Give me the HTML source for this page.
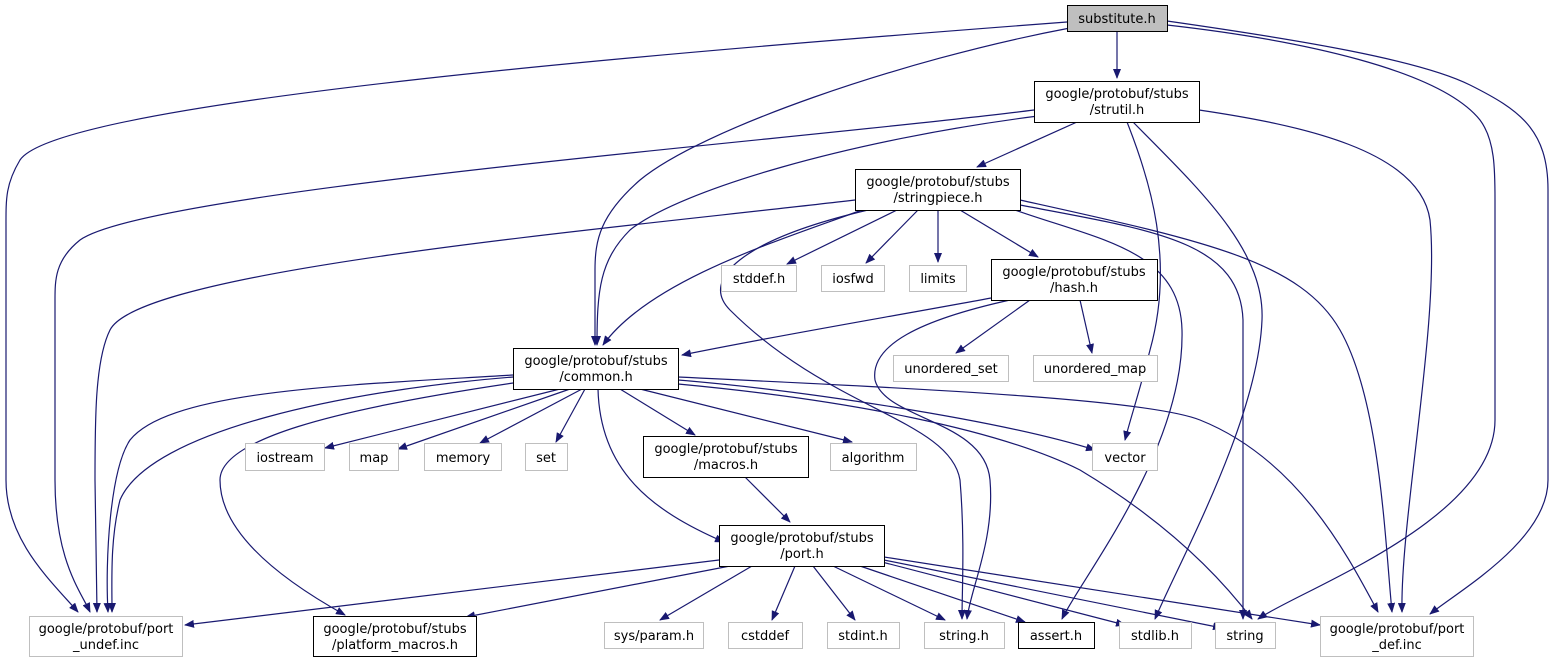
<!DOCTYPE html>
<html><head><meta charset="utf-8"><style>
html,body{margin:0;padding:0;background:#fff;}
svg{display:block;}
text{font-family:"DejaVu Sans","Liberation Sans",sans-serif;font-size:13px;fill:#000;}
.e{fill:none;stroke:#191970;stroke-width:1.2;marker-end:url(#a);}
.n{fill:#fff;stroke:#000;stroke-width:1;}
.g{fill:#fff;stroke:#bfbfbf;stroke-width:1;}
</style></head><body>
<svg width="1555" height="663" viewBox="0 0 1555 663" xmlns="http://www.w3.org/2000/svg">
<defs><marker id="a" markerWidth="10" markerHeight="8" refX="9" refY="4" orient="auto" markerUnits="userSpaceOnUse"><path d="M0,0 L10,4 L0,8 z" fill="#191970"/></marker></defs>
<path class="e" d="M1067,22 C700,50 60,100 20,160 C5,185 6,200 6,230 L6,480 C6,540 50,580 78,612"/>
<path class="e" d="M1070,28 C900,60 700,130 640,180 C600,215 595,240 595,270 L595,345"/>
<path class="e" d="M1117,31 L1117,78"/>
<path class="e" d="M1167,25 C1300,40 1440,70 1480,120 C1495,140 1495,170 1495,200 L1495,420 C1495,520 1300,590 1258,619"/>
<path class="e" d="M1167,21 C1300,40 1420,60 1470,85 C1520,110 1548,130 1548,190 L1548,480 C1548,540 1460,590 1430,614"/>
<path class="e" d="M1034,110 C800,140 150,190 80,240 C55,260 55,280 55,300 L55,480 C55,560 80,590 90,612"/>
<path class="e" d="M1038,116 C850,140 680,190 630,230 C600,260 597,290 597,345"/>
<path class="e" d="M1077,122 L977,167"/>
<path class="e" d="M1127,122 C1150,180 1175,260 1150,350 C1140,390 1130,420 1125,440"/>
<path class="e" d="M1133,122 C1200,190 1265,250 1262,320 C1258,420 1180,560 1155,619"/>
<path class="e" d="M1199,110 C1300,125 1420,150 1430,220 C1440,320 1400,520 1402,612"/>
<path class="e" d="M855,200 C600,230 140,270 110,330 C95,360 95,420 95,480 L97,612"/>
<path class="e" d="M862,210 C780,240 650,280 603,345"/>
<path class="e" d="M868,210 C740,240 700,280 730,310 C830,410 950,420 960,480 C965,540 962,590 962,619"/>
<path class="e" d="M897,210 L787,264"/>
<path class="e" d="M918,210 L866,263"/>
<path class="e" d="M938,210 L938,262"/>
<path class="e" d="M960,210 L1038,257"/>
<path class="e" d="M1015,210 C1100,240 1180,250 1182,330 C1185,450 1080,580 1062,619"/>
<path class="e" d="M1020,205 C1150,230 1240,240 1243,320 L1243,619"/>
<path class="e" d="M1020,200 C1200,240 1300,260 1340,330 C1380,400 1385,540 1392,612"/>
<path class="e" d="M991,298 C900,315 780,335 682,355"/>
<path class="e" d="M1030,300 L956,353"/>
<path class="e" d="M1080,300 L1092,353"/>
<path class="e" d="M1010,300 C920,320 870,345 875,380 C885,420 985,420 990,480 C995,540 970,590 967,619"/>
<path class="e" d="M513,375 C350,385 170,390 130,440 C110,470 105,560 108,612"/>
<path class="e" d="M513,377 C350,390 150,430 120,500 C110,540 112,580 112,612"/>
<path class="e" d="M560,389 L325,448"/>
<path class="e" d="M570,389 L398,449"/>
<path class="e" d="M582,389 L480,443"/>
<path class="e" d="M585,389 L556,442"/>
<path class="e" d="M620,389 L695,435"/>
<path class="e" d="M640,389 L852,442"/>
<path class="e" d="M598,389 C600,470 650,510 724,542"/>
<path class="e" d="M513,383 C330,410 220,440 220,480 C220,540 300,590 345,615"/>
<path class="e" d="M678,380 C800,390 1000,420 1095,450"/>
<path class="e" d="M678,384 C850,400 1000,430 1080,470 C1180,530 1230,590 1252,619"/>
<path class="e" d="M678,377 C950,390 1150,400 1200,420 C1300,460 1350,560 1378,612"/>
<path class="e" d="M745,477 L790,522"/>
<path class="e" d="M719,560 L185,625"/>
<path class="e" d="M730,566 L466,617"/>
<path class="e" d="M752,566 L660,620"/>
<path class="e" d="M795,566 L772,620"/>
<path class="e" d="M813,566 L855,620"/>
<path class="e" d="M833,566 L945,620"/>
<path class="e" d="M860,566 L1025,622"/>
<path class="e" d="M882,562 L1125,625"/>
<path class="e" d="M884,560 L1222,628"/>
<path class="e" d="M884,557 L1320,625"/>
<rect x="1067.5" y="5.5" width="100" height="26" fill="#bfbfbf" stroke="#000"/><text x="1117" y="23" text-anchor="middle">substitute.h</text>
<rect class="n" x="1034.5" y="81.5" width="165" height="41"/><text x="1117" y="98" text-anchor="middle">google/protobuf/stubs</text><text x="1117" y="114" text-anchor="middle">/strutil.h</text>
<rect class="n" x="855.5" y="169.5" width="165" height="41"/><text x="938" y="186" text-anchor="middle">google/protobuf/stubs</text><text x="938" y="202" text-anchor="middle">/stringpiece.h</text>
<rect class="g" x="721.5" y="265.5" width="75" height="26"/><text x="759" y="283" text-anchor="middle">stddef.h</text>
<rect class="g" x="821.5" y="265.5" width="63" height="26"/><text x="853" y="283" text-anchor="middle">iosfwd</text>
<rect class="g" x="909.5" y="265.5" width="57" height="26"/><text x="938" y="283" text-anchor="middle">limits</text>
<rect class="n" x="991.5" y="259.5" width="166" height="41"/><text x="1074" y="276" text-anchor="middle">google/protobuf/stubs</text><text x="1074" y="292" text-anchor="middle">/hash.h</text>
<rect class="n" x="513.5" y="348.5" width="165" height="41"/><text x="596" y="365" text-anchor="middle">google/protobuf/stubs</text><text x="596" y="381" text-anchor="middle">/common.h</text>
<rect class="g" x="893.5" y="355.5" width="115" height="26"/><text x="951" y="373" text-anchor="middle">unordered_set</text>
<rect class="g" x="1033.5" y="355.5" width="124" height="26"/><text x="1095" y="373" text-anchor="middle">unordered_map</text>
<rect class="g" x="245.5" y="443.5" width="79" height="27"/><text x="285" y="462" text-anchor="middle">iostream</text>
<rect class="g" x="349.5" y="443.5" width="49" height="27"/><text x="374" y="462" text-anchor="middle">map</text>
<rect class="g" x="424.5" y="443.5" width="77" height="27"/><text x="463" y="462" text-anchor="middle">memory</text>
<rect class="g" x="525.5" y="443.5" width="42" height="27"/><text x="546" y="462" text-anchor="middle">set</text>
<rect class="n" x="643.5" y="436.5" width="165" height="41"/><text x="726" y="453" text-anchor="middle">google/protobuf/stubs</text><text x="726" y="469" text-anchor="middle">/macros.h</text>
<rect class="g" x="830.5" y="443.5" width="86" height="27"/><text x="873" y="462" text-anchor="middle">algorithm</text>
<rect class="g" x="1092.5" y="443.5" width="65" height="27"/><text x="1125" y="462" text-anchor="middle">vector</text>
<rect class="n" x="719.5" y="525.5" width="165" height="41"/><text x="802" y="542" text-anchor="middle">google/protobuf/stubs</text><text x="802" y="558" text-anchor="middle">/port.h</text>
<rect class="g" x="29.5" y="616.5" width="153" height="40"/><text x="106" y="633" text-anchor="middle">google/protobuf/port</text><text x="106" y="649" text-anchor="middle">_undef.inc</text>
<rect class="n" x="313.5" y="616.5" width="163" height="40"/><text x="395" y="633" text-anchor="middle">google/protobuf/stubs</text><text x="395" y="649" text-anchor="middle">/platform_macros.h</text>
<rect class="g" x="604.5" y="622.5" width="99" height="26"/><text x="654" y="640" text-anchor="middle">sys/param.h</text>
<rect class="g" x="728.5" y="622.5" width="74" height="26"/><text x="765" y="640" text-anchor="middle">cstddef</text>
<rect class="g" x="827.5" y="622.5" width="72" height="26"/><text x="863" y="640" text-anchor="middle">stdint.h</text>
<rect class="g" x="924.5" y="622.5" width="80" height="26"/><text x="964" y="640" text-anchor="middle">string.h</text>
<rect class="n" x="1018.5" y="622.5" width="76" height="26"/><text x="1056" y="640" text-anchor="middle">assert.h</text>
<rect class="g" x="1119.5" y="622.5" width="72" height="26"/><text x="1155" y="640" text-anchor="middle">stdlib.h</text>
<rect class="g" x="1215.5" y="622.5" width="60" height="26"/><text x="1245" y="640" text-anchor="middle">string</text>
<rect class="g" x="1320.5" y="616.5" width="153" height="40"/><text x="1397" y="633" text-anchor="middle">google/protobuf/port</text><text x="1397" y="649" text-anchor="middle">_def.inc</text>
</svg>
</body></html>
